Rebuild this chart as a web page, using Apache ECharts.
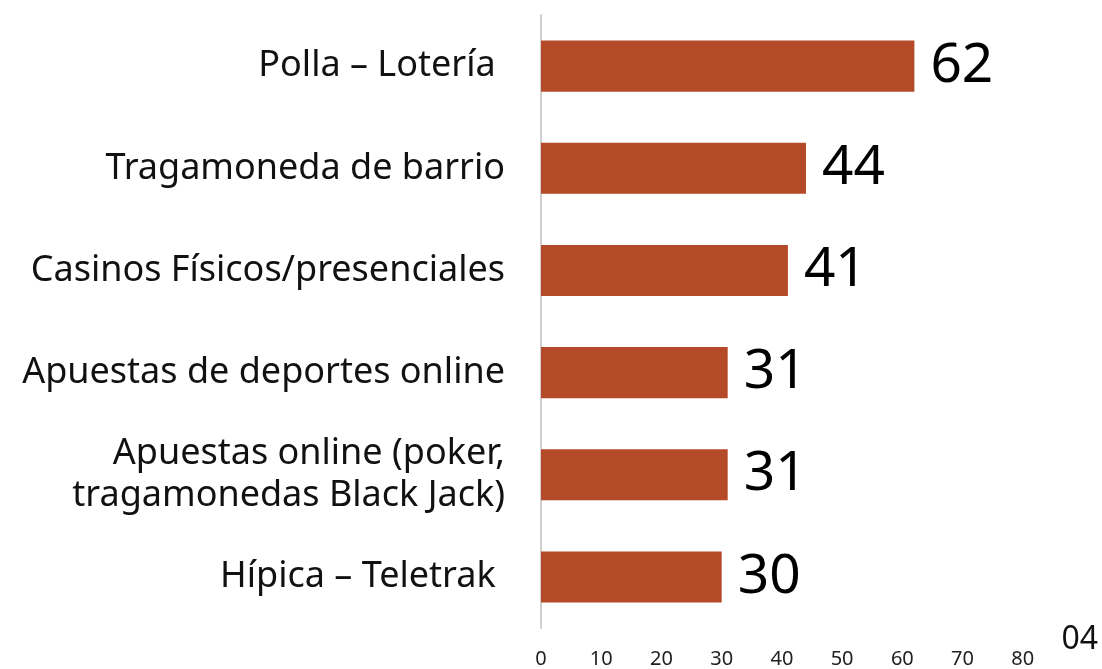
<!DOCTYPE html>
<html>
<head>
<meta charset="utf-8">
<script src="https://cdn.jsdelivr.net/npm/echarts@6/dist/echarts.min.js"></script>
<style>
  html, body { margin: 0; padding: 0; background: #fff; }
  #chart { width: 1102px; height: 669px; }
</style>
</head>
<body>
<div id="chart"></div>
<script>
const categories = [
  'Polla – Lotería ',
  'Tragamoneda de barrio',
  'Casinos Físicos/presenciales',
  'Apuestas de deportes online',
  'Apuestas online (poker,\ntragamonedas Black Jack)',
  'Hípica – Teletrak '
];
const values = [62, 44, 41, 31, 31, 30];
const axisTicks = [0, 10, 20, 30, 40, 50, 60, 70, 80];

const myChart = echarts.init(document.getElementById('chart'));

const option = {
  animation: false,
  textStyle: { fontFamily: 'Noto Sans' },
  grid: { left: 541, right: 19, top: 15, bottom: 38, containLabel: false },
  xAxis: {
    type: 'value',
    min: 0,
    max: 90,
    interval: 10,
    axisLine: { show: false },
    axisTick: { show: false },
    splitLine: { show: false },
    axisLabel: {
      margin: 21,
      fontSize: 20,
      color: '#222',
      formatter: (v) => (axisTicks.includes(v) ? String(v) : '')
    }
  },
  yAxis: {
    type: 'category',
    inverse: true,
    data: categories,
    axisLine: { show: true, lineStyle: { color: '#d0d0d0', width: 2 } },
    axisTick: { show: false },
    axisLabel: {
      margin: 36,
      fontSize: 36,
      lineHeight: 42,
      color: '#111',
      align: 'right'
    }
  },
  series: [
    {
      type: 'bar',
      data: values,
      barWidth: '50%',
      itemStyle: { color: '#B54A28' },
      label: {
        show: true,
        position: 'right',
        distance: 16,
        fontSize: 55,
        color: '#000'
      }
    }
  ],
  graphic: [
    {
      type: 'text',
      right: 4,
      top: 624,
      style: { text: '04', fontSize: 32, fill: '#111', fontFamily: 'Noto Sans' }
    }
  ]
};

option && myChart.setOption(option);
</script>
</body>
</html>
